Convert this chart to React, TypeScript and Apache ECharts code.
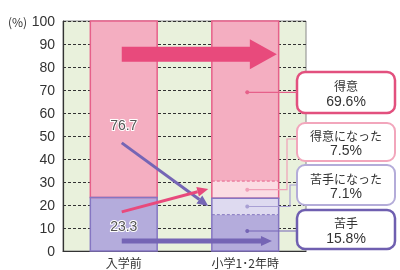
import React, { useEffect, useRef } from "react";
import * as echarts from "echarts";

const categories = ["入学前", "小学1･2年時"];
const nigate = [23.3, 15.8];
const nigateNatta = [0, 7.1];
const tokuiNatta = [0, 7.5];
const tokui = [76.7, 69.6];
const firstBarLabels = ["76.7", "23.3"];
const calloutTitles = ["得意", "得意になった", "苦手になった", "苦手"];
const calloutValues = ["69.6%", "7.5%", "7.1%", "15.8%"];

const FONT = "'Noto Sans CJK JP', 'Noto Sans', sans-serif";
const NUMFONT = "'Liberation Sans', Arial, sans-serif";
const C_TOKUI = "#f4aec1";
const C_TOKUI_N = "#fbdce3";
const C_NIGATE_N = "#dedaf0";
const C_NIGATE = "#b4acdc";
const PINK_LINE = "#e6608a";
const PURPLE_LINE = "#8576c2";
const BIG_PINK = "#e84a7c";
const ARROW_PURPLE = "#7565b5";

export default function App() {
  const ref = useRef<HTMLDivElement>(null);
  useEffect(() => {
    if (!ref.current) return;
    const chart = echarts.init(ref.current, undefined, { renderer: "svg" });
    const barCommon = { type: "bar", stack: "a", barWidth: "55%", itemStyle: { borderWidth: 0 } };
    chart.setOption({
      animation: false,
      textStyle: { fontFamily: FONT },
      grid: {
        left: 63, right: 94, top: 21, bottom: 19, show: true,
        backgroundColor: "#e9f1dc", borderColor: "#888", borderWidth: 1,
      },
      xAxis: {
        type: "category", data: categories,
        axisLine: { lineStyle: { color: "#333", width: 1.2 } },
        axisTick: { show: false },
        axisLabel: { color: "#333", fontSize: 12, margin: 5, fontFamily: FONT },
      },
      yAxis: {
        type: "value", min: 0, max: 100, interval: 10,
        axisLine: { show: true, lineStyle: { color: "#333", width: 1.2 } },
        axisTick: { show: false },
        axisLabel: { color: "#333", fontSize: 14, margin: 8, fontFamily: NUMFONT },
        splitLine: { lineStyle: { color: "#333", type: [3, 2], width: 1 } },
      },
      series: [
        { ...barCommon, name: "苦手", data: nigate, itemStyle: { color: C_NIGATE } },
        { ...barCommon, name: "苦手になった", data: nigateNatta, itemStyle: { color: C_NIGATE_N } },
        { ...barCommon, name: "得意になった", data: tokuiNatta, itemStyle: { color: C_TOKUI_N } },
        { ...barCommon, name: "得意", data: tokui, itemStyle: { color: C_TOKUI } },
      ],
    });

    const P = (i: number, v: number) =>
      chart.convertToPixel({ xAxisIndex: 0, yAxisIndex: 0 }, [i, v]) as number[];
    const x0 = P(0, 0)[0];
    const x1 = P(1, 0)[0];
    const bw = x1 - x0;
    const barW = bw * 0.55;
    const els: any[] = [];
    const Z = 10;

    categories.forEach((_, i) => {
      const cx = P(i, 0)[0];
      const purpleTop = nigate[i] + nigateNatta[i];
      const yBase = P(i, 0)[1];
      const yPT = P(i, purpleTop)[1];
      const yTop = P(i, 100)[1];
      els.push({
        type: "rect", z: Z,
        shape: { x: cx - barW / 2, y: yTop, width: barW, height: yPT - yTop },
        style: { fill: "none", stroke: PINK_LINE, lineWidth: 1.5 },
      });
      els.push({
        type: "rect", z: Z,
        shape: { x: cx - barW / 2, y: yPT, width: barW, height: yBase - yPT },
        style: { fill: "none", stroke: PURPLE_LINE, lineWidth: 1.5 },
      });
      if (nigateNatta[i] > 0) {
        const y = P(i, nigate[i])[1];
        els.push({
          type: "line", z: Z,
          shape: { x1: cx - barW / 2, y1: y, x2: cx + barW / 2, y2: y },
          style: { stroke: PURPLE_LINE, lineWidth: 1, lineDash: [3, 2] },
        });
      }
      if (tokuiNatta[i] > 0) {
        const y = P(i, purpleTop + tokuiNatta[i])[1];
        els.push({
          type: "line", z: Z,
          shape: { x1: cx - barW / 2, y1: y, x2: cx + barW / 2, y2: y },
          style: { stroke: PINK_LINE, lineWidth: 1, lineDash: [3, 2] },
        });
      }
    });

    const blockArrow = (xs: number, xe: number, yc: number, shaft: number, headH: number, headL: number, color: string) => ({
      type: "polygon", z: Z + 1,
      shape: {
        points: [
          [xs, yc - shaft / 2], [xe - headL, yc - shaft / 2], [xe - headL, yc - headH / 2],
          [xe, yc], [xe - headL, yc + headH / 2], [xe - headL, yc + shaft / 2], [xs, yc + shaft / 2],
        ],
      },
      style: { fill: color },
    });
    els.push(blockArrow(x0 - 2, x1 + 0.26 * bw, P(0, 85.5)[1], 15, 30, 27, BIG_PINK));
    els.push(blockArrow(x0 - 2, x1 + 0.22 * bw, P(0, 4.3)[1], 5, 10, 11, ARROW_PURPLE));

    const lineArrow = (ax: number, ay: number, bx: number, by: number, color: string) => {
      const dx = bx - ax, dy = by - ay;
      const len = Math.sqrt(dx * dx + dy * dy);
      const ux = dx / len, uy = dy / len;
      const hl = 11, hw = 5;
      const baseX = bx - ux * hl, baseY = by - uy * hl;
      els.push({
        type: "line", z: Z + 1,
        shape: { x1: ax, y1: ay, x2: baseX, y2: baseY },
        style: { stroke: color, lineWidth: 3 },
      });
      els.push({
        type: "polygon", z: Z + 1,
        shape: { points: [[bx, by], [baseX - uy * hw, baseY + ux * hw], [baseX + uy * hw, baseY - ux * hw]] },
        style: { fill: color },
      });
    };
    lineArrow(x0 - 2, P(0, 47)[1], x1 - 37, P(1, 19.6)[1], ARROW_PURPLE);
    lineArrow(x0 - 2, P(0, 17)[1], x1 - 37, P(1, 27)[1], BIG_PINK);

    [54.8, 11].forEach((v, k) => {
      els.push({
        type: "text", z: Z + 2, x: x0, y: P(0, v)[1],
        style: {
          text: firstBarLabels[k], fontSize: 14, fontFamily: NUMFONT, fill: "#555",
          stroke: "#fff", lineWidth: 2, align: "center", verticalAlign: "middle",
        },
      });
    });

    const boxes = [
      { y: 72, h: 41, stroke: "#e2507e", lw: 2.5 },
      { y: 123, h: 38, stroke: "#f2a6bc", lw: 2 },
      { y: 165, h: 40, stroke: "#b4acd9", lw: 2 },
      { y: 210, h: 39, stroke: "#6f5fb0", lw: 2.5 },
    ];
    const bx = 297, bwid = 98;
    boxes.forEach((b, k) => {
      const cy = b.y + b.h / 2;
      els.push({
        type: "rect", z: Z,
        shape: { x: bx, y: b.y, width: bwid, height: b.h, r: 8 },
        style: { fill: "#fff", stroke: b.stroke, lineWidth: b.lw },
      });
      els.push({
        type: "text", z: Z + 1, x: bx + bwid / 2, y: cy - 7,
        style: {
          text: calloutTitles[k], fontSize: 12, lineHeight: 13,
          fontFamily: FONT, fill: "#333", align: "center", verticalAlign: "middle",
        },
      });
      els.push({
        type: "text", z: Z + 1, x: bx + bwid / 2, y: cy + 8,
        style: {
          text: calloutValues[k], fontSize: 14, lineHeight: 14,
          fontFamily: NUMFONT, fill: "#333", align: "center", verticalAlign: "middle",
        },
      });
    });

    const dotX = x1 + 2;
    const leaders = [
      { v: 69, color: PINK_LINE, bendX: 0, targetY: 0 },
      { v: nigate[1] + nigateNatta[1] + tokuiNatta[1] / 2, color: "#f0a0b8", bendX: 287, targetY: 139 },
      { v: nigate[1] + nigateNatta[1] / 2, color: "#a9a0d4", bendX: 290, targetY: 185 },
      { v: 8.7, color: ARROW_PURPLE, bendX: 0, targetY: 0 },
    ];
    leaders.forEach((l) => {
      const y = P(1, l.v)[1];
      const pts = l.bendX
        ? [[dotX, y], [l.bendX, y], [l.bendX, l.targetY], [bx, l.targetY]]
        : [[dotX, y], [bx, y]];
      els.push({ type: "polyline", z: Z, shape: { points: pts }, style: { stroke: l.color, lineWidth: 1.2, fill: "none" } });
      els.push({ type: "circle", z: Z, shape: { cx: dotX, cy: y, r: 2 }, style: { fill: l.color } });
    });

    els.push({
      type: "text", z: Z, x: 8, y: 21,
      style: { text: "(%)", fontSize: 12, fontFamily: FONT, fill: "#333", verticalAlign: "middle" },
    });

    chart.setOption({ graphic: { elements: els } });
    return () => chart.dispose();
  }, []);
  return <div ref={ref} style={{ position: "fixed", left: 0, top: 0, width: 400, height: 270 }} />;
}
